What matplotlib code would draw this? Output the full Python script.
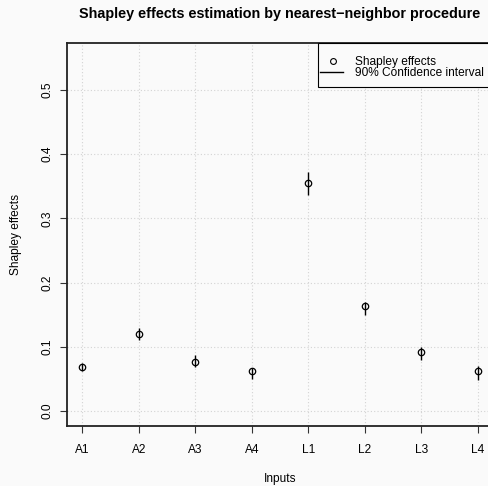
import matplotlib.pyplot as plt
import numpy as np
from matplotlib.patches import Rectangle
from matplotlib.lines import Line2D

# values
inputs = ['A1', 'A2', 'A3', 'A4', 'L1', 'L2', 'L3', 'L4']
shapley = [0.068, 0.120, 0.076, 0.062, 0.355, 0.164, 0.092, 0.062]
ci_low = [0.062, 0.110, 0.069, 0.050, 0.336, 0.150, 0.080, 0.049]
ci_high = [0.074, 0.129, 0.087, 0.067, 0.372, 0.170, 0.100, 0.070]
yticks = [0.0, 0.1, 0.2, 0.3, 0.4, 0.5]
legend_labels = ['Shapley effects', '90% Confidence interval']

plt.rcParams['font.family'] = ['Liberation Sans', 'DejaVu Sans']
bg = '#fafafa'

W, H = 488, 486
fig = plt.figure(figsize=(W / 100, H / 100), dpi=100, facecolor=bg)
# plot region in pixels (the right side runs past the picture edge, as in the reference)
left, right, top, bottom = 66.5, 493.5, 43.5, 425.7
ax = fig.add_axes([left / W, 1 - bottom / H, (right - left) / W, (bottom - top) / H])
ax.set_facecolor(bg)

x = np.arange(1, len(inputs) + 1)
ax.set_xlim(1 - 0.28, len(inputs) + 0.28)
ax.set_ylim(-0.0228, 0.572)

ax.grid(True, color='#d3d3d3', linestyle=(0, (1, 2)), linewidth=0.8)
ax.set_axisbelow(True)

ax.vlines(x, ci_low, ci_high, color='black', linewidth=1.0, zorder=3)
ax.plot(x, shapley, linestyle='none', marker='o', markersize=4.6,
        markerfacecolor='none', markeredgecolor='black', markeredgewidth=0.9, zorder=4)

ax.set_xticks(x)
ax.set_xticklabels(inputs)
ax.set_yticks(yticks)
ax.set_yticklabels([f'{v:.1f}' for v in yticks], rotation=90, va='center')
ax.tick_params(axis='both', labelsize=8.6, length=5.2, width=0.8, color='#333333', pad=4)
ax.tick_params(axis='x', pad=8)
for s in ax.spines.values():
    s.set_linewidth(1.3)
    s.set_color('#222222')

ax.set_xlabel('Inputs', fontsize=8.6, labelpad=12.5)
ax.set_ylabel('Shapley effects', fontsize=8.6, labelpad=14)
fig.text((left + right) / 2 / W, 1 - 14 / H,
         'Shapley effects estimation by nearest\u2212neighbor procedure',
         ha='center', va='center', fontsize=10.4, fontweight='bold')


# R-style legend box in the top right corner, laid out in figure pixels
def fx(px):
    return px / W


def fy(py):
    return 1 - py / H


fig.patches.append(Rectangle((fx(317.5), fy(87)), fx(700) - fx(317.5), fy(43.5) - fy(87),
                             transform=fig.transFigure, facecolor=bg,
                             edgecolor='black', linewidth=0.8, zorder=5))
mark_y = [60.7, 72.3]
base_y = [64.7, 76.0]
fig.lines.append(Line2D([fx(332.7)], [fy(mark_y[0])], transform=fig.transFigure,
                        linestyle='none', marker='o', markersize=4.2, markerfacecolor='none',
                        markeredgecolor='black', markeredgewidth=0.8, zorder=6))
fig.lines.append(Line2D([fx(320), fx(342.7)], [fy(mark_y[1])] * 2, transform=fig.transFigure,
                        color='black', linewidth=1.0, zorder=6))
for lab, by in zip(legend_labels, base_y):
    fig.text(fx(355), fy(by), lab, ha='left', va='baseline', fontsize=8.6, zorder=6)

fig.savefig('out.png', dpi=100, facecolor=bg)
